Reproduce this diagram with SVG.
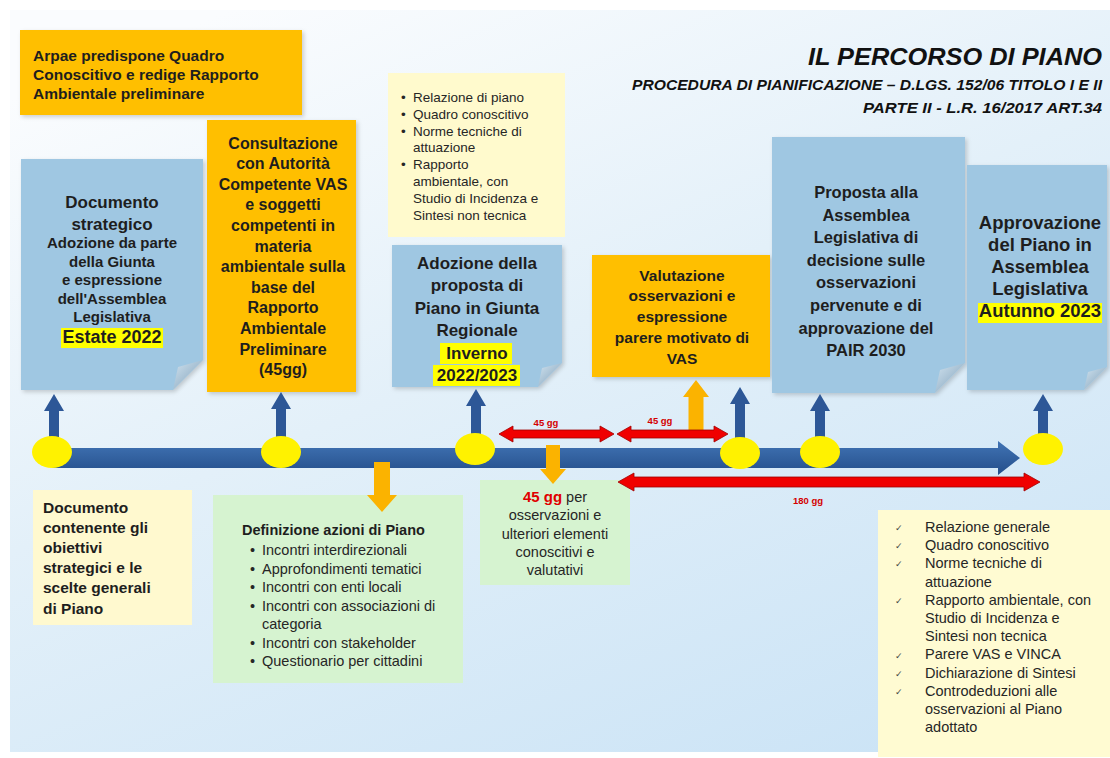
<svg xmlns="http://www.w3.org/2000/svg" width="1110" height="758" viewBox="0 0 1110 758">
<defs>
<linearGradient id="bg" x1="0.2" y1="0" x2="0.8" y2="1">
<stop offset="0" stop-color="#FAFCFE"/><stop offset="0.45" stop-color="#E3F0F9"/><stop offset="1" stop-color="#CCE4F6"/>
</linearGradient>
<linearGradient id="bar" x1="0" y1="0" x2="0" y2="1">
<stop offset="0" stop-color="#4174B5"/><stop offset="1" stop-color="#244E8A"/>
</linearGradient>
<linearGradient id="fold" x1="0" y1="0" x2="1" y2="1">
<stop offset="0" stop-color="#D2E3EF"/><stop offset="1" stop-color="#7C9EB8"/>
</linearGradient>
<filter id="sh" x="-10%" y="-10%" width="130%" height="130%">
<feDropShadow dx="2" dy="2" stdDeviation="2" flood-color="#000" flood-opacity="0.18"/>
</filter>
</defs>
<style>
.b{font-family:"Liberation Sans",Arial,Helvetica,sans-serif;font-weight:bold;fill:#1e1e1e;text-anchor:middle}
.bl{font-family:"Liberation Sans",Arial,Helvetica,sans-serif;font-weight:bold;fill:#1e1e1e}
.r{font-family:"Liberation Sans",Arial,Helvetica,sans-serif;fill:#262626}
.t{font-family:"Liberation Sans",Arial,Helvetica,sans-serif;font-weight:bold;font-style:italic;fill:#111}
.blue{fill:#9FC7E2}
.orange{fill:#FFBF00}
.hl{fill:#FFFF00}
.upb{fill:#2D5797}
.org{fill:#FBB300}
.red{fill:#F00000;stroke:#A00000;stroke-width:0.8}
.rl{font-family:"Liberation Sans",Arial,sans-serif;font-weight:bold;font-size:9.5px;fill:#D40000;text-anchor:middle}
.yc{fill:#FFF200}
</style>
<rect x="0" y="0" width="1110" height="758" fill="#FFFFFF"/>
<rect x="10" y="10" width="1100" height="742" fill="url(#bg)"/>

<g id="title">
<text class="t" x="808" y="65" font-size="24" textLength="294" lengthAdjust="spacingAndGlyphs">IL PERCORSO DI PIANO</text>
<text class="t" x="632" y="90" font-size="14" textLength="470" lengthAdjust="spacingAndGlyphs">PROCEDURA DI PIANIFICAZIONE – D.LGS. 152/06 TITOLO I E II</text>
<text class="t" x="863" y="113" font-size="14" textLength="239" lengthAdjust="spacingAndGlyphs">PARTE II - L.R. 16/2017 ART.34</text>
</g>

<g id="arpae">
<rect class="orange" x="20" y="30" width="282" height="85" filter="url(#sh)"/>
<text class="bl" x="33" y="60.5" font-size="15.5">Arpae predispone Quadro</text>
<text class="bl" x="33" y="79.5" font-size="15.5">Conoscitivo e redige Rapporto</text>
<text class="bl" x="33" y="98.5" font-size="15.5">Ambientale preliminare</text>
</g>

<g id="documento-strategico">
<path class="blue" d="M21 159 H203 V360 L173 390 H21 Z" filter="url(#sh)"/>
<polygon points="173,390 203,360 178,367" fill="url(#fold)"/>
<rect class="hl" x="61" y="328" width="102" height="20"/>
<text class="b" x="112" y="208" font-size="17">Documento</text>
<text class="b" x="112" y="230" font-size="17">strategico</text>
<text class="b" x="112" y="248" font-size="15">Adozione da parte</text>
<text class="b" x="112" y="267" font-size="15">della Giunta</text>
<text class="b" x="112" y="285" font-size="15">e espressione</text>
<text class="b" x="112" y="304" font-size="15">dell'Assemblea</text>
<text class="b" x="112" y="322" font-size="15">Legislativa</text>
<text class="b" x="112" y="343" font-size="18">Estate 2022</text>
</g>

<g id="consultazione">
<rect class="orange" x="207" y="120" width="149" height="272" filter="url(#sh)"/>
<text class="b" x="283" y="148.5" font-size="16">Consultazione</text>
<text class="b" x="283" y="169.1" font-size="16">con Autorità</text>
<text class="b" x="283" y="189.7" font-size="16">Competente VAS</text>
<text class="b" x="283" y="210.3" font-size="16">e soggetti</text>
<text class="b" x="283" y="230.9" font-size="16">competenti in</text>
<text class="b" x="283" y="251.5" font-size="16">materia</text>
<text class="b" x="283" y="272.1" font-size="16">ambientale sulla</text>
<text class="b" x="283" y="292.7" font-size="16">base del</text>
<text class="b" x="283" y="313.3" font-size="16">Rapporto</text>
<text class="b" x="283" y="333.9" font-size="16">Ambientale</text>
<text class="b" x="283" y="354.5" font-size="16">Preliminare</text>
<text class="b" x="283" y="375.1" font-size="16">(45gg)</text>
</g>

<g id="documenti-adozione">
<rect x="388" y="73" width="177" height="164" fill="#FFFACD"/>
<g class="r" font-size="13.5">
<text x="401" y="102">•</text><text x="413" y="102">Relazione di piano</text>
<text x="401" y="118.8">•</text><text x="413" y="118.8">Quadro conoscitivo</text>
<text x="401" y="135.6">•</text><text x="413" y="135.6">Norme tecniche di</text>
<text x="413" y="152.4">attuazione</text>
<text x="401" y="169.2">•</text><text x="413" y="169.2">Rapporto</text>
<text x="413" y="186">ambientale, con</text>
<text x="413" y="202.8">Studio di Incidenza e</text>
<text x="413" y="219.6">Sintesi non tecnica</text>
</g>
</g>

<g id="adozione-giunta">
<path class="blue" d="M392 245 H562 V363 L538 387 H392 Z" filter="url(#sh)"/>
<polygon points="538,387 562,363 542,368" fill="url(#fold)"/>
<rect class="hl" x="440" y="343" width="72" height="21"/>
<rect class="hl" x="433" y="365" width="87" height="21"/>
<text class="b" x="477" y="269" font-size="17">Adozione della</text>
<text class="b" x="477" y="291.4" font-size="17">proposta di</text>
<text class="b" x="477" y="313.8" font-size="17">Piano in Giunta</text>
<text class="b" x="477" y="336.2" font-size="17">Regionale</text>
<text class="b" x="477" y="358.6" font-size="17">Inverno</text>
<text class="b" x="477" y="381" font-size="17">2022/2023</text>
</g>

<g id="valutazione">
<rect class="orange" x="592" y="255" width="178" height="122" filter="url(#sh)"/>
<text class="b" x="682" y="280.5" font-size="15.5">Valutazione</text>
<text class="b" x="682" y="301.3" font-size="15.5">osservazioni e</text>
<text class="b" x="682" y="322.1" font-size="15.5">espressione</text>
<text class="b" x="682" y="342.9" font-size="15.5">parere motivato di</text>
<text class="b" x="682" y="363.7" font-size="15.5">VAS</text>
</g>

<g id="proposta-assemblea">
<path class="blue" d="M772 137 H965 V363 L935 393 H772 Z" filter="url(#sh)"/>
<polygon points="935,393 965,363 940,370" fill="url(#fold)"/>
<text class="b" x="866" y="198" font-size="16.5">Proposta alla</text>
<text class="b" x="866" y="220.6" font-size="16.5">Assemblea</text>
<text class="b" x="866" y="243.2" font-size="16.5">Legislativa di</text>
<text class="b" x="866" y="265.8" font-size="16.5">decisione sulle</text>
<text class="b" x="866" y="288.4" font-size="16.5">osservazioni</text>
<text class="b" x="866" y="311" font-size="16.5">pervenute e di</text>
<text class="b" x="866" y="333.6" font-size="16.5">approvazione del</text>
<text class="b" x="866" y="356.2" font-size="16.5">PAIR 2030</text>
</g>

<g id="approvazione">
<path class="blue" d="M967 165 H1107 V367 L1084 390 H967 Z" filter="url(#sh)"/>
<polygon points="1084,390 1107,367 1088,372" fill="url(#fold)"/>
<rect class="hl" x="978" y="303" width="124" height="20"/>
<text class="b" x="1040" y="228.5" font-size="18.5">Approvazione</text>
<text class="b" x="1040" y="250.5" font-size="18.5">del Piano in</text>
<text class="b" x="1040" y="272.5" font-size="18.5">Assemblea</text>
<text class="b" x="1040" y="294.5" font-size="18.5">Legislativa</text>
<text class="b" x="1040" y="316.5" font-size="18.5">Autunno 2023</text>
</g>

<g id="documento-obiettivi">
<rect x="33" y="490" width="159" height="135" fill="#FFF9CF"/>
<text class="bl" x="43" y="512.5" font-size="15.5">Documento</text>
<text class="bl" x="43" y="532.7" font-size="15.5">contenente gli</text>
<text class="bl" x="43" y="552.9" font-size="15.5">obiettivi</text>
<text class="bl" x="43" y="573.1" font-size="15.5">strategici e le</text>
<text class="bl" x="43" y="593.3" font-size="15.5">scelte generali</text>
<text class="bl" x="43" y="613.5" font-size="15.5">di Piano</text>
</g>

<g id="definizione-azioni">
<rect x="213" y="495" width="250" height="188" fill="#D6F3D0"/>
<text class="bl" x="242" y="535" font-size="14.5" fill="#2a2a2a">Definizione azioni di Piano</text>
<g class="r" font-size="14.5">
<text x="250" y="555">•</text><text x="262" y="555">Incontri interdirezionali</text>
<text x="250" y="573.5">•</text><text x="262" y="573.5">Approfondimenti tematici</text>
<text x="250" y="592">•</text><text x="262" y="592">Incontri con enti locali</text>
<text x="250" y="610.5">•</text><text x="262" y="610.5">Incontri con associazioni di</text>
<text x="262" y="629">categoria</text>
<text x="250" y="647.5">•</text><text x="262" y="647.5">Incontri con stakeholder</text>
<text x="250" y="666">•</text><text x="262" y="666">Questionario per cittadini</text>
</g>
</g>

<g id="osservazioni">
<rect x="480" y="480" width="150" height="105" fill="#D6F3D0"/>
<text x="555" y="502" text-anchor="middle" font-family="'Liberation Sans',Arial,sans-serif" font-size="14.5" fill="#262626"><tspan font-weight="bold" font-size="15" fill="#E00000">45 gg</tspan> per</text>
<g class="r" font-size="14.5" text-anchor="middle">
<text x="555" y="520">osservazioni e</text>
<text x="555" y="538.5">ulteriori elementi</text>
<text x="555" y="557">conoscitivi e</text>
<text x="555" y="575">valutativi</text>
</g>
</g>

<g id="documenti-approvazione">
<rect x="878" y="510" width="232" height="247" fill="#FFFBD2"/>
<g font-family="'DejaVu Sans',sans-serif" font-size="9" fill="#444">
<text x="895" y="531">✓</text>
<text x="895" y="549">✓</text>
<text x="895" y="567">✓</text>
<text x="895" y="604">✓</text>
<text x="895" y="659">✓</text>
<text x="895" y="677">✓</text>
<text x="895" y="695">✓</text>
</g>
<g class="r" font-size="14.5">
<text x="925" y="532">Relazione generale</text>
<text x="925" y="550.2">Quadro conoscitivo</text>
<text x="925" y="568.4">Norme tecniche di</text>
<text x="925" y="586.6">attuazione</text>
<text x="925" y="604.8">Rapporto ambientale, con</text>
<text x="925" y="623">Studio di Incidenza e</text>
<text x="925" y="641.2">Sintesi non tecnica</text>
<text x="925" y="659.4">Parere VAS e VINCA</text>
<text x="925" y="677.6">Dichiarazione di Sintesi</text>
<text x="925" y="695.8">Controdeduzioni alle</text>
<text x="925" y="714">osservazioni al Piano</text>
<text x="925" y="732.2">adottato</text>
</g>
</g>

<g id="connectors">
<polygon points="52,448 998,448 998,441 1020,458 998,475 998,468 52,468" fill="url(#bar)"/>
<polygon class="upb" points="54,394 64,411 59,411 59,438 49,438 49,411 44,411"/>
<polygon class="upb" points="281,392 291,409 286,409 286,438 276,438 276,409 271,409"/>
<polygon class="upb" points="476,389 486,406 481,406 481,435 471,435 471,406 466,406"/>
<polygon class="upb" points="740,387 750,404 745,404 745,439 735,439 735,404 730,404"/>
<polygon class="upb" points="820,394 830,411 825,411 825,438 815,438 815,411 810,411"/>
<polygon class="upb" points="1043,394 1053,411 1048,411 1048,436 1038,436 1038,411 1033,411"/>
<polygon class="org" points="374,462 390,462 390,495 397,495 382,512 367,495 374,495"/>
<polygon class="org" points="696,380 709,397 703.5,397 703.5,431 688.5,431 688.5,397 683,397"/>
<polygon class="org" points="546,445 560,445 560,469 566,469 553,484 540,469 546,469"/>
<polygon class="red" points="499,434 513,426 513,430 600,430 600,426 614,434 600,442 600,438 513,438 513,442"/>
<polygon class="red" points="617,434 631,426 631,430 714,430 714,426 728,434 714,442 714,438 631,438 631,442"/>
<polygon class="red" points="618,482 634,473 634,477 1024,477 1024,473 1040,482 1024,491 1024,487 634,487 634,491"/>
<text class="rl" x="546" y="426">45 gg</text>
<text class="rl" x="660" y="424">45 gg</text>
<text class="rl" x="808" y="504">180 gg</text>
</g>

<g id="milestones">
<ellipse class="yc" cx="52" cy="452" rx="20" ry="16"/>
<ellipse class="yc" cx="281" cy="452" rx="20" ry="16"/>
<ellipse class="yc" cx="475" cy="449" rx="20" ry="16"/>
<ellipse class="yc" cx="740" cy="453" rx="20" ry="16"/>
<ellipse class="yc" cx="820" cy="452" rx="20" ry="16"/>
<ellipse class="yc" cx="1043" cy="449" rx="20" ry="16"/>
</g>
</svg>
